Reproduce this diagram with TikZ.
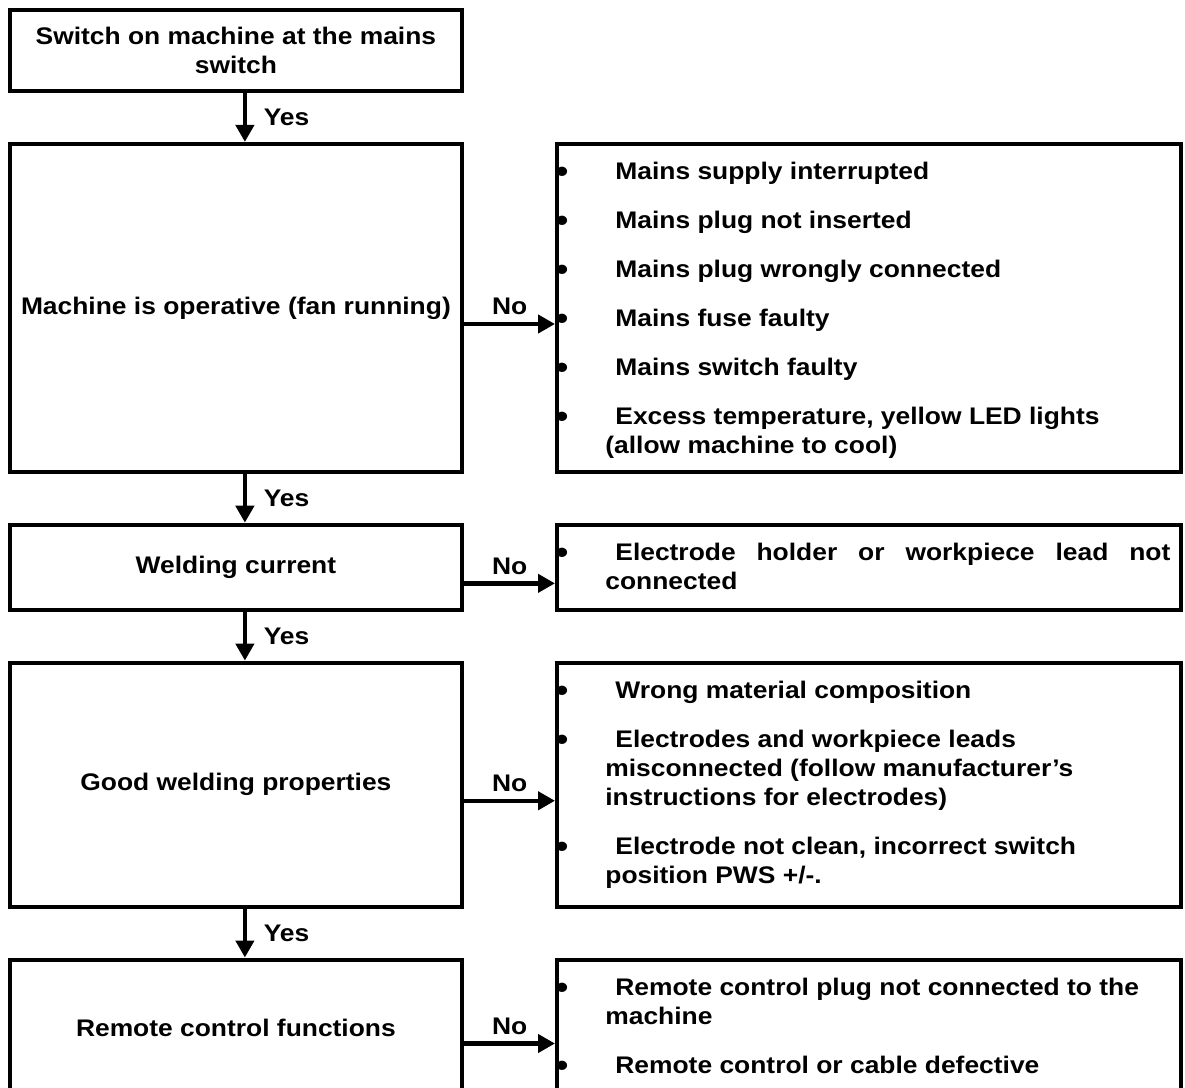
\documentclass[tikz,border=0pt]{standalone}
\usepackage{fontspec}
\setmainfont{Liberation Sans}[FakeStretch=1.1]
\usetikzlibrary{positioning, arrows.meta}

\newcommand{\fitem}[1]{\par\leavevmode\llap{\raisebox{-1.3pt}{\scalebox{1.35}{•}}\hspace{18.5pt}}\hspace{5pt}#1}
\newcommand{\flist}[1]{\parbox[t]{290pt}{\parskip=10pt #1}}

\begin{document}
\begin{tikzpicture}[
        font=\fontsize{12}{14.5}\selectfont\bfseries,
        box/.style={draw, line width=2pt, minimum width=226.4pt, align=center, inner sep=0pt},
        faults/.style={draw, line width=2pt, minimum width=312pt, inner sep=0pt},
        list/.style={anchor=base west, inner sep=0pt},
        flow/.style={line width=2.2pt, -{Triangle[width=9pt,length=8.5pt]}},
        node distance=24.3pt and 45.35pt
    ]
    \useasboundingbox (0,0) rectangle (592.5pt,-544pt);
    \node[box, minimum height=40.5pt, anchor=north west] (mains) at (3.75pt,-4.15pt) {Switch on machine at the mains\\switch};
    \node[box, minimum height=164.1pt, below=of mains] (fan) {Machine is operative (fan running)};
    \node[box, minimum height=42.65pt, below=of fan] (current) {Welding current};
    \node[box, minimum height=122.15pt, below=of current] (props) {Good welding properties};
    \node[box, minimum height=68pt, below=of props] (remote) {Remote control functions};

    \node[faults, minimum height=164.1pt, right=of fan] (fanno) {};
    \node[faults, minimum height=42.65pt, right=of current] (currentno) {};
    \node[faults, minimum height=122.15pt, right=of props] (propsno) {};
    \node[faults, minimum height=68pt, right=of remote] (remoteno) {};

    \node[list] (fanlist) at ([xshift=25pt,yshift=-19pt]fanno.north west) {\flist{%
        \fitem{Mains supply interrupted}
        \fitem{Mains plug not inserted}
        \fitem{Mains plug wrongly connected}
        \fitem{Mains fuse faulty}
        \fitem{Mains switch faulty}
        \fitem{Excess temperature, yellow LED lights}\\(allow machine to cool)}};
    \node[list] (currentlist) at ([xshift=25pt,yshift=-19pt]currentno.north west) {\flist{%
        \fitem{\makebox[277.5pt][s]{Electrode holder or workpiece lead not}}\\connected}};
    \node[list] (propslist) at ([xshift=25pt,yshift=-19pt]propsno.north west) {\flist{%
        \fitem{Wrong material composition}
        \fitem{Electrodes and workpiece leads}\\misconnected (follow manufacturer’s\\instructions for electrodes)
        \fitem{Electrode not clean, incorrect switch}\\position PWS +/-.}};
    \node[list] (remotelist) at ([xshift=25pt,yshift=-19pt]remoteno.north west) {\flist{%
        \fitem{Remote control plug not connected to the}\\machine
        \fitem{Remote control or cable defective}}};

    \draw[flow] ([xshift=4.5pt]mains.south) -- node[right=5pt] {Yes} ([xshift=4.5pt]fan.north);
    \draw[flow] ([xshift=4.5pt]fan.south) -- node[right=5pt] {Yes} ([xshift=4.5pt]current.north);
    \draw[flow] ([xshift=4.5pt]current.south) -- node[right=5pt] {Yes} ([xshift=4.5pt]props.north);
    \draw[flow] ([xshift=4.5pt]props.south) -- node[right=5pt] {Yes} ([xshift=4.5pt]remote.north);

    \draw[flow] ([yshift=-8pt]fan.east) -- node[above] {No} ([yshift=-8pt]fanno.west);
    \draw[flow] ([yshift=-8pt]current.east) -- node[above] {No} ([yshift=-8pt]currentno.west);
    \draw[flow] ([yshift=-8pt]props.east) -- node[above] {No} ([yshift=-8pt]propsno.west);
    \draw[flow] ([yshift=-8pt]remote.east) -- node[above] {No} ([yshift=-8pt]remoteno.west);
\end{tikzpicture}
\end{document}
